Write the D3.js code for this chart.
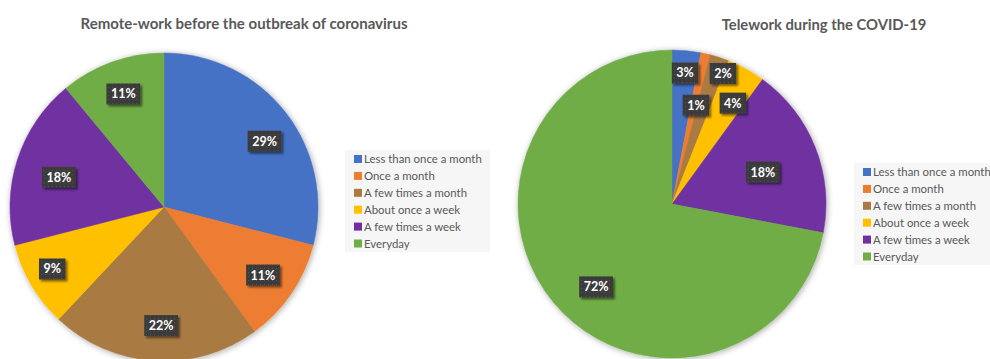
<!DOCTYPE html>
<html>
<head>
<meta charset="utf-8">
<script src="https://cdn.jsdelivr.net/npm/d3@7"></script>
<style>
  html, body { margin: 0; padding: 0; background: #fff; }
  svg { display: block; font-family: Lato, "Open Sans", sans-serif; }
</style>
</head>
<body>
<svg id="chart" width="990" height="359"></svg>
<script>
// Response categories shared by both pies
const categories = [
  "Less than once a month",
  "Once a month",
  "A few times a month",
  "About once a week",
  "A few times a week",
  "Everyday"
];
const colors = ["#4472C4", "#ED7D31", "#A97A42", "#FFC000", "#7030A0", "#70AD47"];

// Share of respondents (%) per category
const beforeValues = [29, 11, 22, 9, 18, 11];
const duringValues = [3, 1, 2, 4, 18, 72];

const titles = ["Remote-work before the outbreak of coronavirus", "Telework during the COVID-19"];

// Label placement: radius fraction and angular nudge (degrees) per slice
const beforeLabelR = [0.78, 0.78, 0.77, 0.83, 0.71, 0.78];
const beforeLabelShift = [4.6, 0.3, -2.2, 1.6, -2.2, 0];
const duringLabelR = [0.855, 0.66, 0.91, 0.765, 0.625, 0.73];
const duringLabelShift = [0.3, 1.0, 3.3, 2.3, 2.2, -7.9];

const svg = d3.select("#chart");
const defs = svg.append("defs");

// soft glow behind each pie
const glow = defs.append("filter").attr("id", "pieShadow")
  .attr("x", "-10%").attr("y", "-10%").attr("width", "120%").attr("height", "120%");
glow.append("feGaussianBlur").attr("in", "SourceAlpha").attr("stdDeviation", 3).attr("result", "b");
glow.append("feOffset").attr("in", "b").attr("dx", 1).attr("dy", 1).attr("result", "o");
glow.append("feComponentTransfer").attr("in", "o").attr("result", "s")
  .append("feFuncA").attr("type", "linear").attr("slope", 0.35);
const gm = glow.append("feMerge");
gm.append("feMergeNode").attr("in", "s");
gm.append("feMergeNode").attr("in", "SourceGraphic");

// drop shadow for the label boxes
const lab = defs.append("filter").attr("id", "labelShadow")
  .attr("x", "-30%").attr("y", "-30%").attr("width", "170%").attr("height", "170%");
lab.append("feGaussianBlur").attr("in", "SourceAlpha").attr("stdDeviation", 1.2).attr("result", "b");
lab.append("feOffset").attr("in", "b").attr("dx", 2).attr("dy", 2).attr("result", "o");
lab.append("feComponentTransfer").attr("in", "o").attr("result", "s")
  .append("feFuncA").attr("type", "linear").attr("slope", 0.5);
const lm = lab.append("feMerge");
lm.append("feMergeNode").attr("in", "s");
lm.append("feMergeNode").attr("in", "SourceGraphic");

// dotted texture on label boxes
const pat = defs.append("pattern").attr("id", "dots")
  .attr("width", 4).attr("height", 4).attr("patternUnits", "userSpaceOnUse");
pat.append("rect").attr("width", 4).attr("height", 4).attr("fill", "#3b3b3b");
pat.append("rect").attr("x", 1).attr("y", 1).attr("width", 1).attr("height", 1).attr("fill", "#555");

const color = d3.scaleOrdinal().domain(categories).range(colors);
const pie = d3.pie().sort(null).value(d => d.value);

function drawPie(cfg) {
  const g = svg.append("g").attr("transform", `translate(${cfg.cx},${cfg.cy})`);
  const data = categories.map((c, i) => ({ cat: c, value: cfg.values[i], i }));
  const arcs = pie(data);
  const arc = d3.arc().innerRadius(0).outerRadius(cfg.r);

  g.append("g").attr("filter", "url(#pieShadow)")
    .selectAll("path").data(arcs).join("path")
    .attr("d", arc)
    .attr("fill", d => color(d.data.cat))
    .attr("stroke", d => color(d.data.cat))
    .attr("stroke-width", 0.5);

  const labels = g.selectAll("g.lbl").data(arcs).join("g").attr("class", "lbl")
    .attr("transform", d => {
      const a = (d.startAngle + d.endAngle) / 2 + cfg.shift[d.index] * Math.PI / 180;
      const rr = cfg.r * cfg.labelR[d.index];
      return `translate(${rr * Math.sin(a)},${-rr * Math.cos(a)})`;
    });
  labels.each(function (d) {
    const sel = d3.select(this);
    const t = sel.append("text")
      .attr("text-anchor", "middle").attr("dy", "0.36em")
      .attr("font-size", 12.5).attr("font-weight", 700).attr("fill", "#fff")
      .text(d.data.value + "%");
    const w = t.node().getComputedTextLength() + 9;
    sel.insert("rect", "text")
      .attr("x", -w / 2).attr("y", -10.5).attr("width", w).attr("height", 21)
      .attr("fill", "url(#dots)").attr("filter", "url(#labelShadow)");
  });

  svg.append("text")
    .attr("x", cfg.tx).attr("y", cfg.ty)
    .attr("text-anchor", "middle")
    .attr("font-size", cfg.tsize).attr("font-weight", 700).attr("fill", "#595959")
    .text(cfg.title);

  // legend
  const lg = svg.append("g").attr("transform", `translate(${cfg.lx},${cfg.ly})`);
  lg.append("rect").attr("x", 0).attr("y", 0).attr("width", cfg.lw).attr("height", 102)
    .attr("fill", "#f6f6f6");
  const item = lg.selectAll("g.item").data(categories).join("g").attr("class", "item")
    .attr("transform", (d, i) => `translate(9,${9 + i * 16.9})`);
  item.append("rect").attr("x", 0).attr("y", -4).attr("width", 8).attr("height", 8)
    .attr("fill", d => color(d));
  item.append("text").attr("x", 10).attr("dy", "0.35em")
    .attr("font-size", 11.4).attr("fill", "#595959").text(d => d);
}

drawPie({ cx: 164, cy: 207, r: 154, values: beforeValues, labelR: beforeLabelR, shift: beforeLabelShift,
  title: titles[0], tsize: 15, tx: 244, ty: 29, lx: 345, ly: 150, lw: 145 });
drawPie({ cx: 672, cy: 204, r: 154, values: duringValues, labelR: duringLabelR, shift: duringLabelShift,
  title: titles[1], tsize: 14.8, tx: 824, ty: 30, lx: 854, ly: 163, lw: 145 });
</script>
</body>
</html>
